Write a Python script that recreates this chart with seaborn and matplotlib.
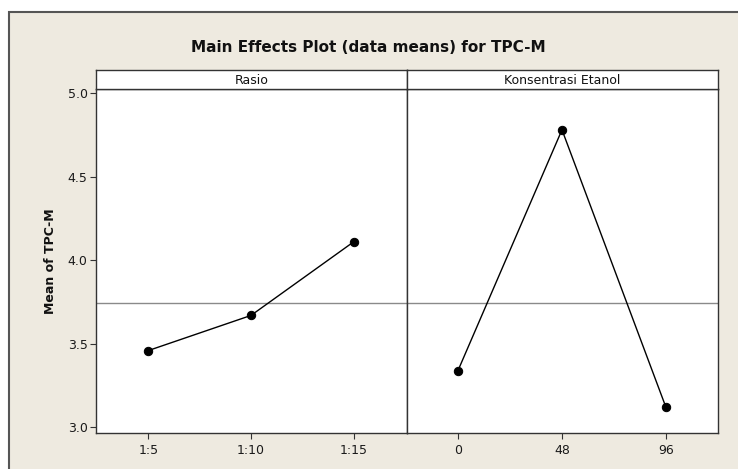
import matplotlib
matplotlib.use("Agg")
import matplotlib.pyplot as plt
import matplotlib.patches as mpatches
import seaborn as sns
import pandas as pd

# ---- data ----
rasio_levels = ["1:5", "1:10", "1:15"]
rasio_means = [3.46, 3.67, 4.11]
etanol_levels = ["0", "48", "96"]
etanol_means = [3.34, 4.78, 3.12]
grand_mean = 3.747
y_ticks = [3.0, 3.5, 4.0, 4.5, 5.0]
panel_titles = ["Rasio", "Konsentrasi Etanol"]
title = "Main Effects Plot (data means) for TPC-M"
y_label = "Mean of TPC-M"

df_r = pd.DataFrame({"level": rasio_levels, "mean": rasio_means})
df_e = pd.DataFrame({"level": etanol_levels, "mean": etanol_means})

sns.set_theme(style="white")
plt.rcParams["font.family"] = ["DejaVu Sans"]

W, H = 738, 469
fig = plt.figure(figsize=(W / 100, H / 100), dpi=100)
fig.patch.set_facecolor("white")

def fx(px):
    return px / W

def fy(py):
    return 1 - py / H

# outer beige panel with border
rect = mpatches.Rectangle((fx(9), -0.1), 1.2, fy(12) + 0.1, transform=fig.transFigure,
                          facecolor="#EEEAE0", edgecolor="#555555", linewidth=1.5, zorder=-10)
fig.patches.append(rect)

left, mid, right = 96, 407, 718
top_hdr, top_plot, bottom = 70, 89.5, 432.5

ax1 = fig.add_axes([fx(left), fy(bottom), fx(mid - left), fy(top_plot) - fy(bottom)])
ax2 = fig.add_axes([fx(mid), fy(bottom), fx(right - mid), fy(top_plot) - fy(bottom)], sharey=ax1)
h1 = fig.add_axes([fx(left), fy(top_plot), fx(mid - left), fy(top_hdr) - fy(top_plot)])
h2 = fig.add_axes([fx(mid), fy(top_plot), fx(right - mid), fy(top_hdr) - fy(top_plot)])

for ax, df in [(ax1, df_r), (ax2, df_e)]:
    ax.set_facecolor("white")
    ax.axhline(grand_mean, color="#8a8a8a", linewidth=1.0, zorder=1)
    sns.pointplot(data=df, x="level", y="mean", ax=ax, color="black", errorbar=None,
                  markers="o", markersize=6, linewidth=1.0, zorder=3)
    ax.set_xlabel("")
    ax.set_ylabel("")
    for s in ax.spines.values():
        s.set_color("#333333")
        s.set_linewidth(1.0)
    ax.tick_params(axis="x", which="both", bottom=True, length=4, width=0.8, color="#333333",
                   labelsize=9, labelcolor="#1a1a1a", pad=4)

ax1.set_xlim(-0.51, 2.52)
ax2.set_xlim(-0.49, 2.5)
ax1.set_ylim(2.970, 5.021)
ax1.set_yticks(y_ticks)
ax1.set_yticklabels([f"{v:.1f}" for v in y_ticks])
ax1.tick_params(axis="y", left=True, length=4, width=0.8, color="#333333",
                labelsize=9, labelcolor="#1a1a1a", pad=2)
ax2.tick_params(axis="y", left=False, labelleft=False)
ax1.set_ylabel(y_label, fontsize=9, fontweight="bold", color="#111111", labelpad=8)

for h, t in [(h1, panel_titles[0]), (h2, panel_titles[1])]:
    h.set_facecolor("white")
    h.set_xticks([])
    h.set_yticks([])
    for s in h.spines.values():
        s.set_color("#333333")
        s.set_linewidth(1.0)
    h.text(0.5, 0.45, t, ha="center", va="center", fontsize=9, color="#111111",
           transform=h.transAxes)

fig.text(fx(368), fy(47), title, ha="center", va="center", fontsize=11,
         fontweight="bold", color="#111111")

fig.savefig("out.png", dpi=100, facecolor=fig.get_facecolor())
